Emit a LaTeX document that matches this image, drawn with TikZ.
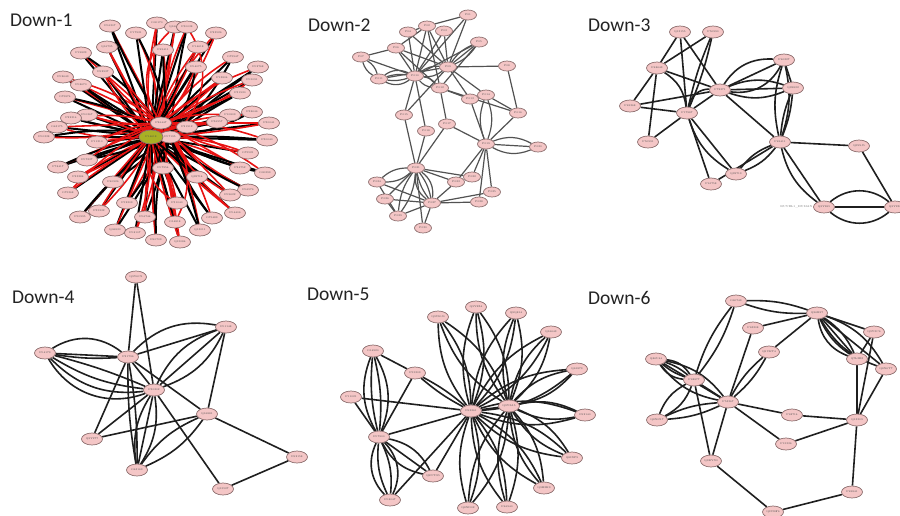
\documentclass[tikz,border=0pt]{standalone}
\usepackage{fontspec}
\newfontfamily\titlefont{Carlito}
\usetikzlibrary{shapes.geometric,backgrounds}
\definecolor{nodepink}{RGB}{244,198,198}
\definecolor{nodeline}{RGB}{140,110,110}
\definecolor{hubgreen}{RGB}{168,176,36}
\definecolor{edgered}{RGB}{232,18,18}
\definecolor{titlegray}{RGB}{35,35,35}
% several parallel edges between two nodes, one per bend angle
\newcommand\medges[4]{\foreach \bb in {#4}{\draw[#1] (#2) to[bend left=\bb] (#3);}}
\tikzset{
  nd/.style={ellipse,draw=nodeline,fill=nodepink,line width=0.7pt,minimum width=21pt,minimum height=12pt,inner sep=0pt,font=\fontsize{2.6}{3}\selectfont,text=black!70},
  nds/.style={nd,minimum width=17pt,minimum height=10pt},
  hub/.style={nd,fill=hubgreen,minimum width=24pt,minimum height=14pt},
  ttl/.style={anchor=west,inner sep=0pt,font=\titlefont\fontsize{19.5}{22}\selectfont,text=titlegray},
  ek/.style={line width=2pt,black},
  er/.style={line width=1.6pt,edgered},
  eg/.style={line width=1.2pt,black!68},
  eb/.style={line width=1.6pt,black!88},
}
\begin{document}
\begin{tikzpicture}[x=1pt,y=-1pt]
\useasboundingbox (0,0) rectangle (900,515);

% ---------- titles ----------
\node[ttl] (t1) at (10,20) {Down-1};
\node[ttl] (t2) at (308,25) {Down-2};
\node[ttl] (t3) at (588,25) {Down-3};
\node[ttl] (t4) at (12,297) {Down-4};
\node[ttl] (t5) at (307,294) {Down-5};
\node[ttl] (t6) at (588,298) {Down-6};

% ---------- Down-1: star network ----------
\foreach \x/\y/\t [count=\i] in {
 110/26/P06307,157/23/O00170,136/33/P17931,175/27/Q16698,187/27/P30038,216/33/P23526,
 81/53/P19823,107/47/Q16795,163/50/P49411,198/47/P14618,233/57/O75947,63/77/P02649,
 81/85/P08670,103/72/P62937,196/67/P04075,222/78/P13804,258/67/P02768,252/80/P05091,
 65/97/O75874,87/115/P00367,71/118/P22314,57/127/O43175,44/137/P00338,97/142/P11310,
 240/93/P31930,230/115/P10809,252/112/P38646,269/123/P30041,267/140/P30040,248/153/O75521,
 58/167/P78417,78/177/P23284,87/160/P07237,240/168/P24752,265/173/O00299,68/193/O75368,
 113/182/P40926,163/168/P07954,248/190/P06576,230/195/P09622,127/203/P52209,177/203/P31040,
 80/217/P50995,99/211/P35232,145/217/P06744,175/222/O14818,212/218/O75489,235/213/P04406,
 115/230/Q06830,135/233/P08107,156/240/P60709,180/242/Q15084,200/230/Q13011,217/122/P36957,
 197/177/Q99714,187/127/P21912}
 {\node[nd] (a\i) at (\x,\y) {\t};}
\node[nd] (ahubb) at (161,123) {P26447};
\node[nd] (ahubc) at (170,137) {P07195};
\node[hub] (ahub) at (151,137) {P14618};

% ---------- Down-2 ----------
\foreach \x/\y [count=\i] in {
 468/15,427/26,444/31,408/32,479/42,396/48,361/57,507/66,448/67,415/76,
 379/79,440/88,470/99,486/95,404/115,518/113,447/124,426/131,486/144,538/147,
 416/168,472/177,456/182,377/182,492/192,385/199,432/203,479/202,398/216,423/228}
 {\node[nds] (b\i) at (\x,\y) {P0\i};}

% ---------- Down-3 ----------
\foreach \x/\y/\t [count=\i] in {
 680/32/Q13155,713/32/P50990,657/68/P48643,784/60/P40227,720/90/P78371,
 793/88/Q99832,630/106/P49368,687/113/P17987,648/142/P50991,780/142/P49411,
 859/146/Q5SSJ5,736/174/Q99719,711/184/P61758,824/207/Q9Y265,895/207/Q9Y230}
 {\node[nd] (c\i) at (\x,\y) {\t};}
\node[anchor=east,inner sep=0.5pt,font=\fontsize{2.8}{3}\selectfont,text=black!55] (c14l) at (c14.west) {RUVBL1\_HUMAN};

% ---------- Down-4 ----------
\foreach \x/\y/\t [count=\i] in {
 136/277/Q9Y6C9,226/327/P01148,45/353/P04179,128/357/P21796,154/390/P30202,
 207/414/Q16881,92/439/Q9Y277,137/470/O43169,297/457/P62158,223/489/Q15527}
 {\node[nd] (f\i) at (\x,\y) {\t};}

% ---------- Down-5 ----------
\foreach \x/\y/\t [count=\i] in {
 438/317/Q9UKJ0,476/307/Q9Y2Z4,516/313/Q9Q814,551/332/Q16643,373/351/O14920,
 415/373/P55209,577/369/Q61879,351/397/P11021,379/437/P07900,585/415/P62140,
 572/458/Q8IXP9,433/476/Q9NTG5,544/488/Q9H2H9,390/500/P08047,468/508/Q8ND02,507/507/P46940}
 {\node[nd] (g\i) at (\x,\y) {\t};}
\node[nd] (gh1) at (471,411) {P63261};
\node[nd] (gh2) at (509,406) {Q9Y3A5};

% ---------- Down-6 ----------
\foreach \x/\y/\t [count=\i] in {
 736/301/O60749,817/313/Q96B97,753/328/P63208,874/332/Q9Y3C6,769/352/Q9UKT4,
 656/359/Q86U44,857/359/Q7L2E3,886/369/Q8N6T7,694/380/P62877,728/402/P53367,
 792/415/P62714,657/420/Q8N0X7,857/420/Q13309,786/444/P15336,711/461/Q9BYN0,
 852/492/P49841,773/512/Q9UBF6}
 {\node[nd] (q\i) at (\x,\y) {\t};}

\begin{pgfonlayer}{background}
\fill[white] (0,0) rectangle (900,515);

% Down-1 edges: black and red spokes from the hubs
\foreach \i in {1,...,56}{
  \pgfmathtruncatemacro\ba{mod(\i,3)*9-9}
  \pgfmathtruncatemacro\bc{mod(\i+1,4)*6-9}
  \draw[ek] (ahub) -- (a\i);
  \draw[er] (ahubb) to[bend left=\ba] (a\i);
  \ifodd\i \draw[ek] (ahubc) to[bend left=\bc] (a\i); \else \draw[er] (ahub) to[bend left=\bc] (a\i); \fi
}
\draw[er] (ahubb) to[bend left=40] (a4);
\draw[er] (ahubc) to[bend right=40] (a5);
\draw[er] (ahub) to[bend right=35] (a42);
\draw[er] (ahubb) to[bend left=35] (a46);

% Down-2 edges
\foreach \a/\b in {7/6,7/10,6/2,6/9,6/10,6/12,4/2,4/10,4/9,2/1,2/10,2/9,2/12,3/10,3/9,1/9,1/10,5/12,5/10,
 9/8,9/13,9/14,9/15,9/11,10/15,10/18,12/17,12/13,12/16,8/16,13/19,14/16,16/19,19/17,19/22,19/23,
 19/25,19/28,17/21,18/21,15/21,21/26,21/30,21/23,21/22,24/27,26/27,29/27,30/27,27/25,27/28,27/23,26/29,24/29}
 {\draw[eg] (b\a) -- (b\b);}
\medges{eg}{b7}{b11}{-20,20}
\medges{eg}{b5}{b9}{-15,0,15}
\medges{eg}{b9}{b10}{-20,20}
\medges{eg}{b10}{b11}{-30,-12,12,30}
\medges{eg}{b10}{b12}{-20,20}
\medges{eg}{b14}{b19}{-20,20}
\medges{eg}{b19}{b20}{-25,0,25}
\medges{eg}{b21}{b27}{-30,-12,12,30}
\medges{eg}{b21}{b24}{-20,20}
\medges{eg}{b21}{b29}{-15,15}

% Down-3 edges
\foreach \a/\b in {1/3,1/5,1/8,2/3,3/7,3/9,3/5,7/8,7/5,9/8,5/10,8/13,10/13,10/11,11/15}
 {\draw[eb] (c\a) -- (c\b);}
\medges{eb}{c2}{c8}{-5,5}
\medges{eb}{c3}{c8}{25}
\medges{eb}{c5}{c8}{-40,0}
\medges{eb}{c5}{c4}{-35,0,30}
\medges{eb}{c5}{c6}{-20,0,20}
\medges{eb}{c4}{c6}{0}
\medges{eb}{c4}{c10}{-15,15}
\medges{eb}{c6}{c10}{-8,8}
\medges{eb}{c8}{c12}{-20,0}
\medges{eb}{c10}{c12}{-15,15}
\medges{eb}{c10}{c14}{-20,0}
\medges{eb}{c14}{c15}{-40,0,40}

% Down-4 edges
\foreach \a/\b in {1/4,1/5,4/5,4/6,4/7,2/6,5/7,5/10,6/7,6/9,9/10}
 {\draw[eb] (f\a) -- (f\b);}
\medges{eb}{f3}{f4}{35,0,-6}
\medges{eb}{f3}{f5}{-40,-26,-12,4}
\medges{eb}{f4}{f2}{28,0}
\medges{eb}{f5}{f2}{-22,0,22}
\medges{eb}{f4}{f8}{-5,5}
\medges{eb}{f5}{f8}{-20,0,20}
\medges{eb}{f6}{f8}{-15,15}

% Down-5 edges
\foreach \p in {1,2,3,4,7,10,11,13,15,16}
 {\medges{eb}{g\p}{gh1}{-18,18}
  \medges{eb}{g\p}{gh2}{-18,18}}
\foreach \a/\b in {g5/g6,g6/g9,g8/g9,g8/gh1,g9/gh1,g12/gh1,g14/gh1,gh1/gh2}
 {\draw[eb] (\a) -- (\b);}
\medges{eb}{g5}{g9}{-25,-9,9,25}
\medges{eb}{g6}{gh1}{-6,6}
\medges{eb}{g9}{g12}{-25,0,25}
\medges{eb}{g9}{g14}{-35,-15,15,35}

% Down-6 edges
\foreach \a/\b in {3/2,3/10,5/2,2/4,4/7,4/13,7/13,8/13,9/10,9/15,10/15,10/11,10/14,11/13,14/13,13/16,16/17,15/17}
 {\draw[eb] (q\a) -- (q\b);}
\medges{eb}{q1}{q2}{-10,10}
\medges{eb}{q1}{q9}{-10,10}
\medges{eb}{q5}{q10}{-10,10}
\medges{eb}{q2}{q7}{-30,-15,0,15}
\medges{eb}{q2}{q8}{-20,0,20}
\medges{eb}{q6}{q9}{-25,-10,10,25}
\medges{eb}{q6}{q10}{-20,0,20}
\medges{eb}{q9}{q12}{-20,20}
\medges{eb}{q12}{q10}{-10,10}
\end{pgfonlayer}
\end{tikzpicture}
\end{document}
